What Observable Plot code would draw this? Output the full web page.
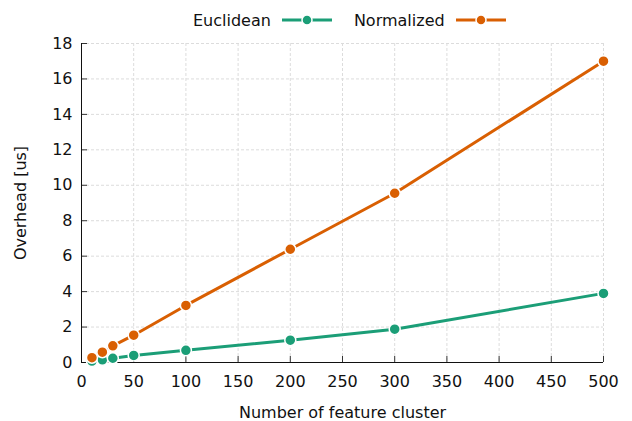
<!DOCTYPE html>
<html>
<head>
<meta charset="utf-8">
<script src="https://cdn.jsdelivr.net/npm/d3@7"></script>
<script src="https://cdn.jsdelivr.net/npm/@observablehq/plot@0.6"></script>
<style>
  body { margin: 0; background: #fff; font-family: "DejaVu Sans", sans-serif; }
  #legend { height: 33px; box-sizing: border-box; padding-top: 7px; padding-left: 193px;
            display: flex; align-items: center; font-size: 16px; color: #111; }
  #legend .item { display: flex; align-items: center; margin-right: 22px; }
  #legend svg { margin-left: 11px; }
</style>
</head>
<body>
<div id="legend"></div>
<div id="chart"></div>
<script>
const clusters = [10, 20, 30, 50, 100, 200, 300, 500];
const euclidean = [0.08, 0.15, 0.24, 0.40, 0.69, 1.26, 1.88, 3.90];
const normalized = [0.27, 0.58, 0.94, 1.54, 3.22, 6.39, 9.55, 17.0];
const seriesNames = ["Euclidean", "Normalized"];
const seriesColors = ["#1b9e77", "#d95f02"];
const xTicks = [0, 50, 100, 150, 200, 250, 300, 350, 400, 450, 500];
const yTicks = [0, 2, 4, 6, 8, 10, 12, 14, 16, 18];
const xTitle = "Number of feature cluster";
const yTitle = "Overhead [us]";

// legend
const legend = d3.select("#legend");
seriesNames.forEach((name, i) => {
  const item = legend.append("div").attr("class", "item");
  item.append("span").text(name);
  const s = item.append("svg").attr("width", 50).attr("height", 14);
  s.append("line").attr("x1", 0).attr("x2", 50).attr("y1", 7).attr("y2", 7)
    .attr("stroke", seriesColors[i]).attr("stroke-width", 3);
  s.append("circle").attr("cx", 25).attr("cy", 7).attr("r", 5)
    .attr("fill", seriesColors[i]).attr("stroke", "#fff").attr("stroke-width", 1.5);
});

const rowsE = clusters.map((c, i) => ({x: c, y: euclidean[i], s: seriesNames[0]}));
const rowsN = clusters.map((c, i) => ({x: c, y: normalized[i], s: seriesNames[1]}));

const chart = Plot.plot({
  width: 632,
  height: 388,
  marginTop: 10,
  marginBottom: 59,
  marginLeft: 81,
  marginRight: 29,
  style: {fontFamily: "DejaVu Sans, sans-serif", fontSize: "16px", color: "#111", background: "#fff"},
  x: {domain: [0, 500], label: null},
  y: {domain: [0, 18], label: null},
  color: {domain: seriesNames, range: seriesColors},
  marks: [
    Plot.gridX({ticks: xTicks, stroke: "#dcdcdc", strokeOpacity: 1, strokeDasharray: "3,2"}),
    Plot.gridY({ticks: yTicks, stroke: "#dcdcdc", strokeOpacity: 1, strokeDasharray: "3,2"}),
    Plot.axisX({ticks: xTicks, tickSize: -6, tickPadding: 19, stroke: "#333"}),
    Plot.axisY({ticks: yTicks, tickSize: -6, tickPadding: 15, stroke: "#333"}),
    Plot.ruleX([0], {stroke: "#111"}),
    Plot.ruleY([0], {stroke: "#111"}),
    Plot.line(rowsE, {x: "x", y: "y", stroke: "s", strokeWidth: 3}),
    Plot.dot(rowsE, {x: "x", y: "y", fill: "s", r: 5.5, stroke: "#fff", strokeWidth: 1.5}),
    Plot.line(rowsN, {x: "x", y: "y", stroke: "s", strokeWidth: 3}),
    Plot.dot(rowsN, {x: "x", y: "y", fill: "s", r: 5.5, stroke: "#fff", strokeWidth: 1.5}),
    Plot.text([xTitle], {frameAnchor: "bottom", lineAnchor: "middle", textAnchor: "middle", dy: 50, fontSize: 16}),
    Plot.text([yTitle], {frameAnchor: "left", lineAnchor: "middle", textAnchor: "middle", rotate: -90, dx: -61, fontSize: 16})
  ]
});
document.getElementById("chart").appendChild(chart);
</script>
</body>
</html>
